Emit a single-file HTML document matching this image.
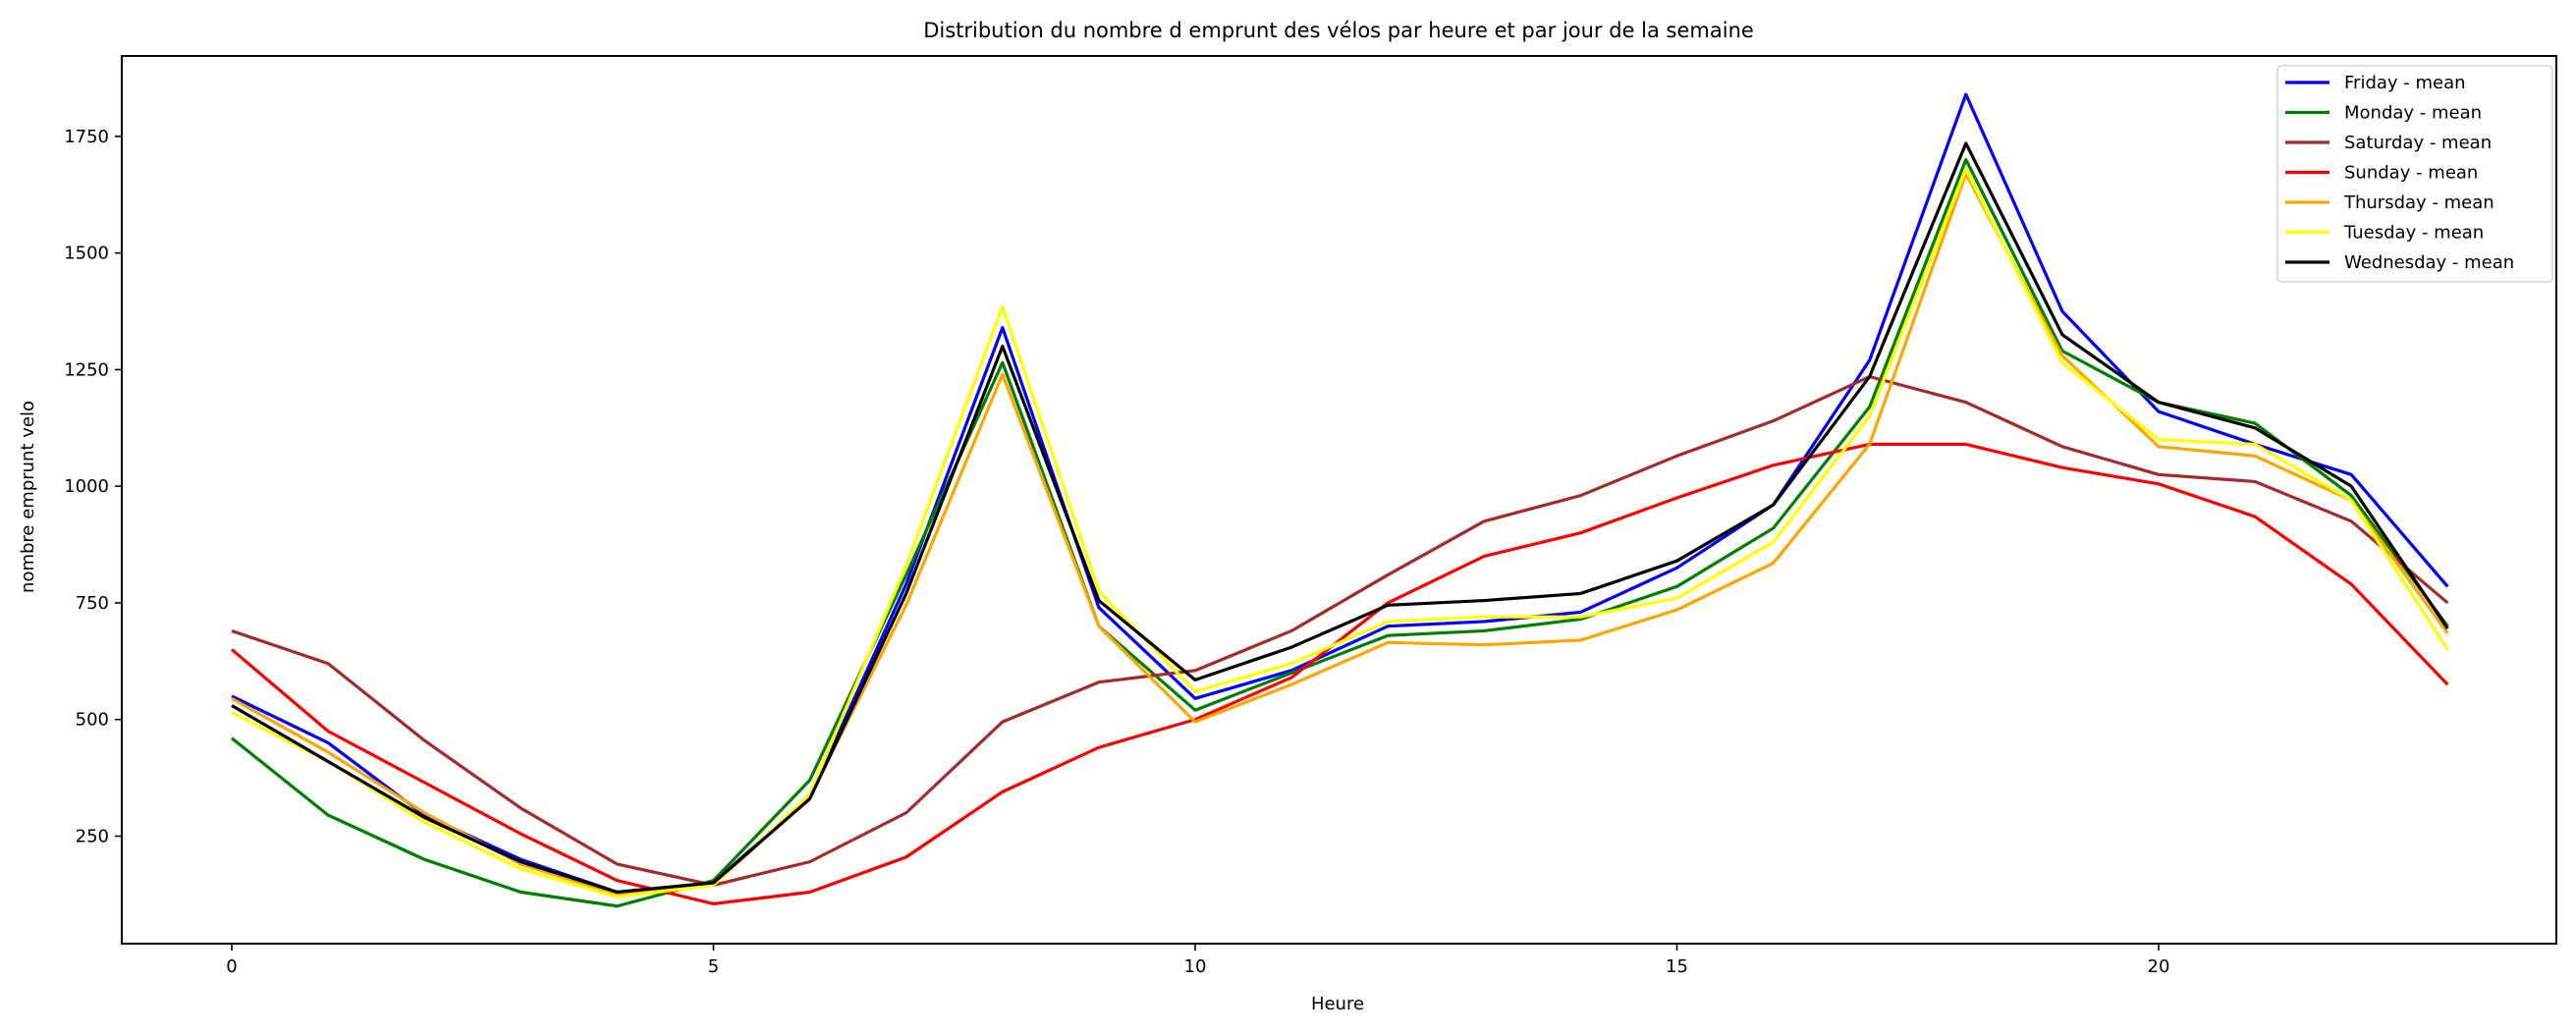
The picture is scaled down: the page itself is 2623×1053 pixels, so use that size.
<!DOCTYPE html>
<html><head><meta charset="utf-8"><style>
body{margin:0;background:#fff;}
svg{display:block;font-family:"DejaVu Sans","Liberation Sans",sans-serif;}
</style></head><body>
<svg id="chart" width="2623" height="1053" xmlns="http://www.w3.org/2000/svg">
<rect width="2623" height="1053" fill="#fff"/>
<text x="1363" y="38" font-size="21" text-anchor="middle">Distribution du nombre d emprunt des vélos par heure et par jour de la semaine</text>
<text x="1362" y="1028" font-size="18" text-anchor="middle">Heure</text>
<text transform="translate(34,506) rotate(-90)" font-size="18" text-anchor="middle">nombre emprunt velo</text>
<g id="ticks"></g>
<g id="lines"></g>
<rect x="124" y="57" width="2479" height="904" fill="none" stroke="#000" stroke-width="2"/>
<g id="legend"></g>
</svg>
<script>
const hours=[0,1,2,3,4,5,6,7,8,9,10,11,12,13,14,15,16,17,18,19,20,21,22,23];
const xTicks=[0,5,10,15,20];
const yTicks=[250,500,750,1000,1250,1500,1750];
const seriesNames=["Friday","Monday","Saturday","Sunday","Thursday","Tuesday","Wednesday"];
const seriesColors=["#0000ff","#008000","#a52a2a","#ff0000","#ffa500","#ffff00","#000000"];
const friday=[550,450,295,200,130,150,335,790,1340,740,545,605,700,710,730,825,960,1270,1840,1375,1160,1090,1025,785];
const monday=[460,295,200,130,100,155,370,810,1265,700,520,600,680,690,715,785,910,1170,1700,1290,1180,1135,980,700];
const saturday=[690,620,455,310,190,145,195,300,495,580,605,690,810,925,980,1065,1140,1235,1180,1085,1025,1010,925,750];
const sunday=[650,475,365,255,155,105,130,205,345,440,500,590,750,850,900,975,1045,1090,1090,1040,1005,935,790,575];
const thursday=[545,430,300,190,125,145,335,745,1240,700,495,575,665,660,670,735,835,1090,1670,1280,1085,1065,970,685];
const tuesday=[515,410,280,180,120,145,340,830,1385,775,560,620,710,720,720,760,880,1150,1680,1265,1100,1090,970,650];
const wednesday=[530,410,290,195,130,150,330,770,1300,755,585,655,745,755,770,840,960,1235,1735,1325,1180,1125,1000,695];
const allSeries=[friday,monday,saturday,sunday,thursday,tuesday,wednesday];

const NS="http://www.w3.org/2000/svg";
function xs(h){return 236+h*98.1;}
function ys(v){return 851.5-(v-250)*0.4751;}
function mk(tag,attrs,parent){const e=document.createElementNS(NS,tag);for(const k in attrs)e.setAttribute(k,attrs[k]);parent.appendChild(e);return e;}
const tg=document.getElementById('ticks');
xTicks.forEach(t=>{
  const l=mk('line',{x1:xs(t),x2:xs(t),y1:961,y2:968,stroke:'#000','stroke-width':1.6},tg);
  
  
  const tx=mk('text',{x:xs(t),y:990,'font-size':18,'text-anchor':'middle'},tg);
  tx.textContent=t;
  
  
});
yTicks.forEach(t=>{
  const l=mk('line',{x1:117,x2:124,y1:ys(t),y2:ys(t),stroke:'#000','stroke-width':1.6},tg);
  
  
  const tx=mk('text',{x:111,y:ys(t)+6,'font-size':18,'text-anchor':'end'},tg);
  tx.textContent=t;
  
  
});
const lg=document.getElementById('lines');
allSeries.forEach((s,i)=>{
  const p=mk('polyline',{points:s.map((v,j)=>xs(hours[j])+','+ys(v)).join(' '),fill:'none',stroke:seriesColors[i],'stroke-width':3.2,'stroke-linejoin':'round'},lg);
  
  
});
const leg=document.getElementById('legend');
const box=mk('rect',{x:2319,y:67,width:280,height:220,rx:4,fill:'#fff',stroke:'#d6d6d6','stroke-width':1.6},leg);


seriesNames.forEach((n,i)=>{
  const y=84+i*30.5;
  const l=mk('line',{x1:2327,x2:2372,y1:y,y2:y,stroke:seriesColors[i],'stroke-width':3.2},leg);
  
  
  const t=mk('text',{x:2387,y:y+6,'font-size':18},leg);
  t.textContent=n+' - mean';
  
  
});
</script>
</body></html>
